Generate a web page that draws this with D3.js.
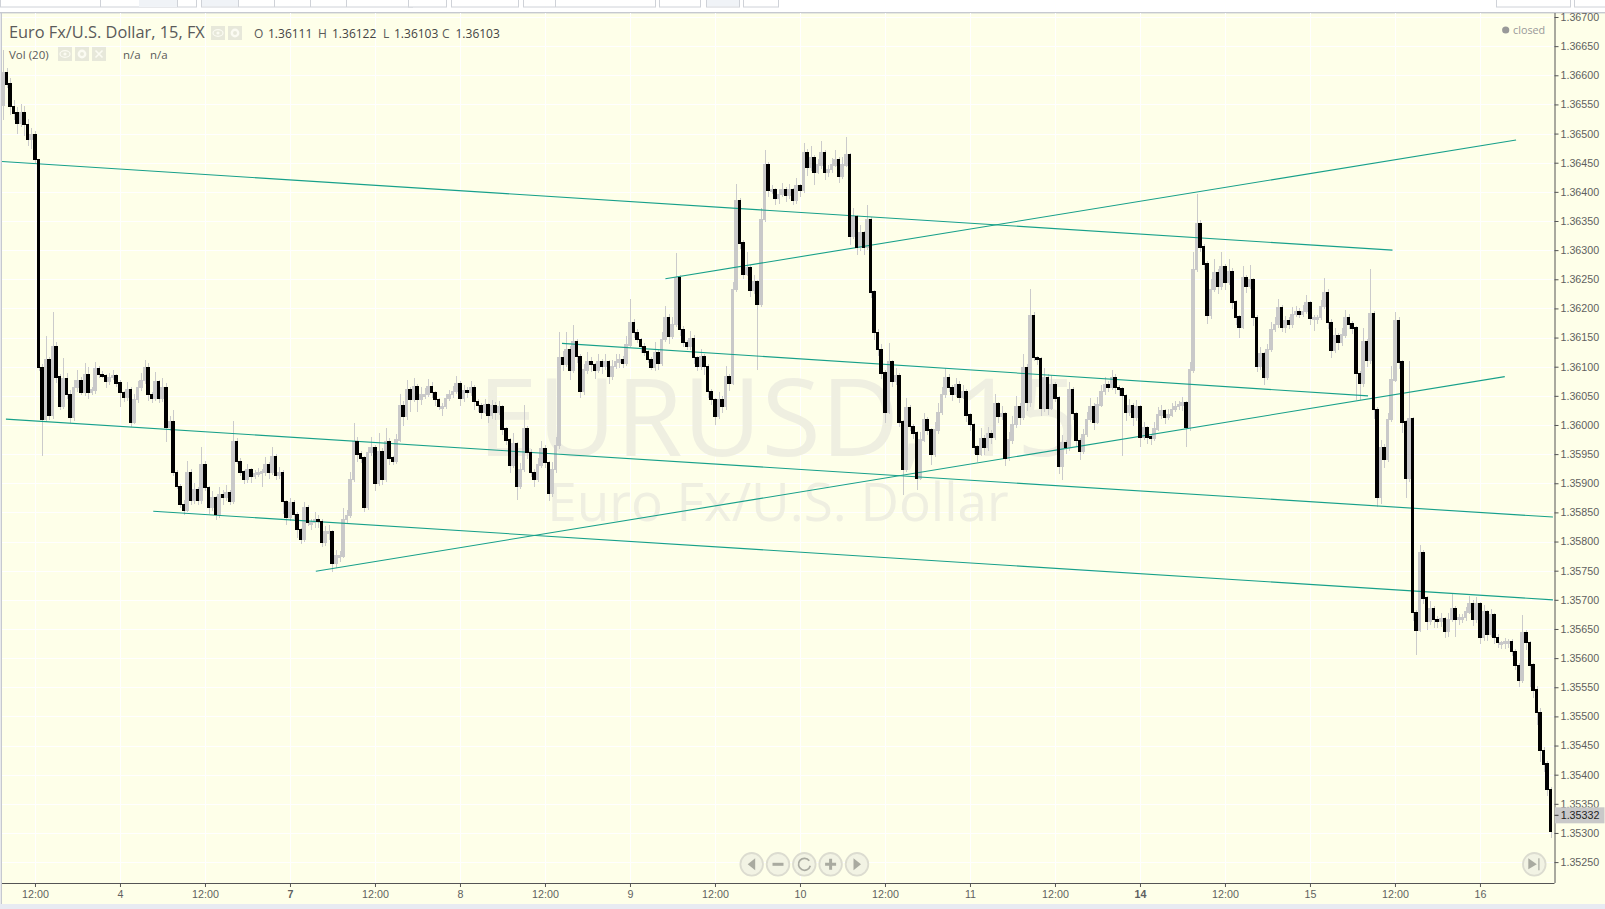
<!DOCTYPE html>
<html><head><meta charset="utf-8">
<script src="https://cdn.jsdelivr.net/npm/d3@7/dist/d3.min.js"></script>
<style>html,body{margin:0;padding:0;background:#fff;overflow:hidden}svg{display:block}
text{font-family:"Open Sans",sans-serif}
.axis text{font-family:"Liberation Sans",Arial,sans-serif;font-size:10.7px;fill:#5f5f5f}
</style></head><body><svg id="c" width="1605" height="909"></svg>
<script>
// Half-hour closes, in points above 1.35000 (1 point = 0.00001)
const firstOpen = 1549;
const closes = [
1604,1585,1546,1535,1518,1535,1515,1489,1498,1455,1098,1009,1112,1017,1134,1082,1031,1079,1052,1012,
1064,1076,1055,1086,1055,1060,1096,1086,1084,1074,1081,1084,1072,1055,1048,1060,1005,1043,1064,1076,
1098,1052,1045,1074,1045,1064,995,1005,918,894,863,854,918,871,889,870,931,892,858,875,
847,880,875,883,868,971,937,919,907,923,911,916,918,919,931,918,945,913,918,868,
841,866,846,820,803,858,832,832,837,834,799,816,816,763,775,775,837,844,906,971,
950,943,858,952,961,900,954,907,971,943,937,974,1033,1014,1060,1043,1065,1043,1052,1052,
1065,1055,1043,1031,1031,1045,1052,1057,1070,1045,1058,1055,1064,1040,1033,1022,1034,1017,1033,1021,
1031,993,974,931,967,895,923,993,952,918,906,931,959,935,883,923,964,1115,1103,1129,
1094,1142,1117,1057,1094,1108,1103,1093,1108,1100,1108,1084,1100,1108,1112,1106,1137,1175,1158,1146,
1134,1125,1112,1098,1124,1105,1146,1184,1151,1172,1252,1163,1141,1134,1148,1115,1100,1117,1100,1057,
1043,1014,1043,1031,1082,1072,1232,1384,1312,1259,1269,1230,1245,1206,1352,1446,1403,1403,1388,1395,
1403,1393,1403,1386,1410,1402,1467,1441,1458,1434,1446,1467,1434,1438,1446,1455,1426,1446,1463,1323,
1357,1305,1329,1305,1352,1228,1158,1129,1089,1022,1108,1074,1084,1005,923,1029,997,986,909,974,
1009,991,949,991,1021,1052,1081,1064,1052,1069,1048,1057,1017,1000,962,950,976,961,985,978,
1036,1014,1019,943,974,1000,1031,1012,1098,1038,1187,1115,1113,1029,1081,1029,1069,1046,928,969,
961,1060,1019,973,954,983,1009,1031,1005,1034,1057,1069,1064,1081,1064,1062,1050,1021,1033,1012,
1031,979,995,979,976,993,1017,1024,1012,1017,1026,1031,1034,1038,995,1094,1266,1345,1305,1276,
1187,1232,1261,1237,1271,1244,1263,1211,1185,1168,1252,1237,1249,1184,1101,1122,1082,1129,1163,1172,
1201,1168,1179,1173,1189,1194,1189,1194,1209,1182,1184,1184,1203,1227,1175,1127,1153,1142,1154,1184,
1173,1166,1088,1072,1142,1110,1191,1026,875,961,940,1009,1077,1179,1108,1005,909,1010,678,648,
780,703,662,684,666,662,667,645,666,684,667,669,669,679,693,667,693,635,679,641,
674,635,626,626,628,628,611,587,561,643,626,588,545,506,441,418,374,302];
// Wick length above each body, in points
const upperWick = [
40,8,10,12,10,16,12,10,12,6,0,6,40,4,60,8,6,36,10,8,
14,18,6,20,14,6,12,6,6,4,8,10,4,6,4,14,6,10,12,14,
14,8,4,17,4,16,8,10,20,4,4,8,20,6,12,4,32,8,4,12,
4,14,8,14,6,35,6,6,4,10,4,6,8,6,14,6,18,6,10,4,
4,8,6,4,4,10,4,6,14,8,4,10,12,4,10,8,20,10,14,33,
8,6,4,10,18,4,32,6,24,6,4,10,20,8,17,6,16,6,14,12,
14,8,4,4,6,8,8,10,14,6,10,8,12,4,4,4,10,4,10,6,
10,4,4,4,20,4,12,41,6,6,6,12,14,6,4,14,16,45,12,30,
6,30,6,4,10,18,8,4,14,6,14,4,12,14,10,6,16,41,6,6,
4,6,4,4,18,6,14,20,6,14,43,6,6,4,14,6,4,14,4,4,
4,4,14,6,20,6,14,30,6,6,28,6,12,4,20,26,6,8,4,10,
12,6,10,4,14,4,16,6,20,6,10,20,4,8,12,16,4,14,31,4,
16,4,14,4,26,4,4,6,10,6,33,4,14,6,4,17,6,4,4,14,
12,4,4,14,16,14,16,6,4,12,6,12,4,4,4,4,18,6,12,6,
18,4,14,4,14,16,18,6,24,6,46,6,4,4,16,6,16,4,4,14,
6,14,6,4,4,10,14,16,6,14,12,14,6,14,6,4,4,4,12,4,
12,4,10,4,4,12,14,10,4,10,12,10,8,10,4,14,30,51,6,6,
6,18,24,6,26,6,22,6,4,4,20,6,26,4,4,12,4,10,14,14,
16,4,8,6,14,10,6,12,14,4,4,4,12,26,6,6,14,4,12,14,
6,6,4,4,24,6,77,4,4,14,6,12,24,14,6,4,4,100,4,4,
14,6,4,14,6,6,10,4,12,28,6,6,6,8,14,6,12,4,12,4,
10,4,6,4,6,4,4,4,4,31,6,4,4,8,8,6,6,4];
// Wick length below each body, in points
const lowerWick = [
25,6,14,12,18,6,20,10,16,6,6,62,4,8,6,10,6,4,8,8,
6,8,4,6,10,4,6,6,4,10,6,4,6,25,8,6,8,4,6,6,
6,10,8,4,8,6,25,6,6,4,6,8,4,8,6,8,6,6,10,6,
10,6,12,6,6,4,4,6,8,6,10,4,6,25,6,10,4,8,6,20,
12,6,8,14,8,4,6,12,8,10,8,6,14,15,8,10,4,6,4,4,
14,8,8,4,6,14,4,10,4,12,6,4,4,16,6,20,4,20,8,8,
4,8,10,6,16,4,4,6,4,12,6,8,6,14,10,12,4,14,6,12,
4,10,8,14,4,24,4,4,10,8,12,4,4,8,14,6,6,6,10,4,
16,4,10,10,6,6,12,14,4,12,6,14,6,4,10,8,4,4,8,6,
10,6,6,4,6,10,4,4,12,4,4,10,8,6,6,10,8,6,14,10,
8,14,4,10,6,14,4,4,10,8,4,10,6,112,4,4,12,6,10,8,
4,10,6,8,6,10,4,14,6,22,4,6,14,8,6,4,10,4,4,14,
4,14,6,14,4,10,12,10,10,19,4,8,6,8,43,4,8,10,20,4,
4,8,17,4,6,4,6,8,10,4,10,4,12,10,12,14,4,12,6,10,
4,10,6,14,4,6,6,12,4,14,8,6,10,14,6,12,4,6,12,22,
10,6,10,10,14,4,4,4,14,4,4,6,8,4,10,12,103,14,6,14,
6,16,4,12,10,4,4,6,10,4,4,4,6,10,32,6,4,4,8,10,
14,6,4,12,6,12,4,12,14,18,4,10,4,14,10,6,14,4,4,4,
6,8,10,8,6,4,6,4,4,10,20,10,4,4,10,12,4,14,6,4,
8,10,45,29,6,10,6,16,15,10,14,4,4,4,12,18,34,6,14,43,
4,10,14,6,14,10,8,10,8,4,30,10,8,6,4,12,6,10,6,12,
4,10,8,10,10,10,8,8,10,4,12,38,14,20,20,14,10,10];
// Trend lines: [bar index, points] at each end
const trendLines = [
 [[-0.3,1452],[392.3,1300]],
 [[0.8,1010],[437.6,842]],
 [[42.4,852],[437.6,700]],
 [[88.3,749],[424,1083]],
 [[187,1251],[427.2,1489]],
 [[157.8,1140],[385.4,1050]]];
const priceTicks = [1.367,1.3665,1.366,1.3655,1.365,1.3645,1.364,1.3635,1.363,1.3625,1.362,1.3615,1.361,1.3605,1.36,1.3595,1.359,1.3585,1.358,1.3575,1.357,1.3565,1.356,1.3555,1.355,1.3545,1.354,1.3535,1.353,1.3525];
const timeLabels = ["12:00","4","12:00","7","12:00","8","12:00","9","12:00","10","12:00","11","12:00","14","12:00","15","12:00","16"];
const boldLabels = ["7","14"];
const lastPrice = 1.35332;
const headerOHLC = [["O","1.36111"],["H","1.36122"],["L","1.36103"],["C","1.36103"]];

const svg = d3.select("#c");
const P = {l:2,t:13,r:1554.5,b:883};
const x = d3.scaleLinear().domain([0,437]).range([3.1,1550.8]);
const y = d3.scaleLinear().domain([1.367,1.3525]).range([17,862.1]);
const px = v => 1.35 + v/1e5;
const BG = "#feffe9";

// page chrome
svg.append("rect").attr("width",1605).attr("height",909).attr("fill","#fff");
svg.append("rect").attr("x",P.l).attr("y",P.t).attr("width",1603).attr("height",891).attr("fill",BG);
svg.append("rect").attr("y",904).attr("width",1605).attr("height",5).attr("fill","#e8ebf2");
svg.append("rect").attr("x",0).attr("y",12).attr("width",1605).attr("height",1.4).attr("fill","#c6c9d0");
svg.append("rect").attr("x",0.6).attr("y",12).attr("width",1.4).attr("height",892).attr("fill","#c6c9d0");
const boxes=[[0,196],[201,412],[408,446],[451,518],[523,655],[659,700],[706,739],[743,778],[1496,1570],[1574,1605]];
boxes.forEach(b=>svg.append("rect").attr("x",b[0]+.5).attr("y",-4).attr("width",b[1]-b[0]).attr("height",11).attr("fill","#fff").attr("stroke","#cfd2d8"));
[[100,139],[177,196],[201,238],[238,274],[274,310],[310,346],[346,382],[555,596]].forEach(d=>svg.append("line").attr("x1",d[0]+.5).attr("x2",d[0]+.5).attr("y1",0).attr("y2",7).attr("stroke","#cfd2d8"));
svg.append("rect").attr("x",139).attr("y",0).attr("width",38).attr("height",7).attr("fill","#f0f3f7");
svg.append("rect").attr("x",202).attr("y",0).attr("width",36).attr("height",6).attr("fill","#f0f3f7");
svg.append("rect").attr("x",707).attr("y",0).attr("width",32).attr("height",6).attr("fill","#f0f3f7");

// grid
const grid = svg.append("g").attr("stroke","#fff").attr("stroke-width",1);
priceTicks.forEach(p=>grid.append("line").attr("x1",P.l).attr("x2",P.r).attr("y1",Math.round(y(p))+.5).attr("y2",Math.round(y(p))+.5));
const tickIdx = timeLabels.map((d,k)=>9+24*k);
tickIdx.forEach(i=>grid.append("line").attr("y1",P.t).attr("y2",P.b).attr("x1",Math.round(x(i))+.5).attr("x2",Math.round(x(i))+.5));

// watermark
svg.append("text").attr("x",778).attr("y",456).attr("text-anchor","middle").attr("font-size",108).attr("fill","#efefe1").text("EURUSD, 15");
svg.append("text").attr("x",778).attr("y",521).attr("text-anchor","middle").attr("font-size",53).attr("fill","#efefe1").text("Euro Fx/U.S. Dollar");

// candles
const bars = closes.map((c,i)=>{
  const o = i? closes[i-1]:firstOpen;
  return {i,o,c,h:Math.max(o,c)+(upperWick[i]||0),l:Math.min(o,c)-(lowerWick[i]||0)};
});
const cx = d=>Math.round(x(d.i));
svg.append("g").selectAll("rect").data(bars).join("rect")
 .attr("x",d=>cx(d)).attr("width",1).attr("y",d=>y(px(d.h))).attr("height",d=>y(px(d.l))-y(px(d.h))).attr("fill","#cbcbcb").attr("shape-rendering","crispEdges");
// each body fills its half-hour slot so that runs of bars join up
const body = (g,data,col)=>g.selectAll("rect").data(data).join("rect")
 .attr("x",d=>Math.round(x(d.i)-2)).attr("width",d=>Math.round(x(d.i+1)-2)-Math.round(x(d.i)-2))
 .attr("y",d=>y(px(Math.max(d.o,d.c)))-1)
 .attr("height",d=>Math.max(3,Math.abs(y(px(d.o))-y(px(d.c)))+1.5))
 .attr("fill",col).attr("shape-rendering","crispEdges");
body(svg.append("g"),bars.filter(d=>d.c>=d.o),"#c9c9c9");

// trend lines
const line = d3.line().x(d=>x(d[0])).y(d=>y(px(d[1])));
svg.append("g").selectAll("path").data(trendLines).join("path").attr("d",line).attr("fill","none").attr("stroke","#17a08a").attr("stroke-width",1.1);

body(svg.append("g"),bars.filter(d=>d.c<d.o),"#000");

// axes
const yAxis = d3.axisRight(y).tickValues(priceTicks).tickFormat(d3.format(".5f")).tickSize(4).tickPadding(2);
const ya = svg.append("g").attr("class","axis").attr("transform",`translate(${P.r},0)`).call(yAxis);
const xAxis = d3.axisBottom(x).tickValues(tickIdx).tickFormat((d,k)=>timeLabels[k]).tickSize(4).tickPadding(3);
const xa = svg.append("g").attr("class","axis").attr("transform",`translate(0,${P.b})`).call(xAxis);
ya.selectAll("path,line").attr("stroke","#555");
xa.selectAll("path,line").attr("stroke","#555");
ya.select("path").attr("d",`M0.5,${P.t}V${P.b}`);
xa.select("path").attr("d",`M${P.l},0.5H${P.r}`);
xa.selectAll("text").attr("font-weight",(d,k)=>boldLabels.includes(timeLabels[k])?"bold":null);

// last price tag
const lastY=y(lastPrice);
svg.append("rect").attr("x",P.r+.5).attr("y",lastY-7).attr("width",49.5).attr("height",16).attr("fill","#c9c9c9");
svg.append("text").attr("x",1560.7).attr("y",lastY+5).attr("font-size",10.7).attr("fill","#222").style("font-family",'"Liberation Sans",Arial,sans-serif').text(d3.format(".5f")(lastPrice));
svg.append("line").attr("x1",P.r).attr("x2",P.r+4).attr("y1",lastY+1).attr("y2",lastY+1).attr("stroke","#333");

// legend
const T=(a,xx,yy,s,c,w)=>svg.append("text").attr("x",xx).attr("y",yy).attr("font-size",s).attr("fill",c).text(a);
T("Euro Fx/U.S. Dollar, 15, FX",9,38,16.35,"#5a5a5a");
const icon=(xx,yy,kind)=>{svg.append("rect").attr("x",xx).attr("y",yy).attr("width",14).attr("height",14).attr("fill","#e7e8da");
 const cxx=xx+7,cyy=yy+7;
 if(kind=="eye"){svg.append("ellipse").attr("cx",cxx).attr("cy",cyy).attr("rx",5).attr("ry",3.3).attr("fill","none").attr("stroke","#fbfbf2").attr("stroke-width",1.2);svg.append("circle").attr("cx",cxx).attr("cy",cyy).attr("r",1.6).attr("fill","#fbfbf2");}
 if(kind=="gear"){svg.append("circle").attr("cx",cxx).attr("cy",cyy).attr("r",3.2).attr("fill","none").attr("stroke","#fbfbf2").attr("stroke-width",2.4);}
 if(kind=="x"){svg.append("path").attr("d",`M${cxx-3.5},${cyy-3.5}L${cxx+3.5},${cyy+3.5}M${cxx+3.5},${cyy-3.5}L${cxx-3.5},${cyy+3.5}`).attr("stroke","#fbfbf2").attr("stroke-width",1.6);}
};
icon(211,26,"eye");icon(228,26,"gear");
const ohlcX=[[254,268],[318,332],[383,394],[442,455.5]];
headerOHLC.forEach((d,k)=>{T(d[0],ohlcX[k][0],38,12,"#5a5a5a");T(d[1],ohlcX[k][1],38,12,"#444");});
T("Vol (20)",9,59,11.5,"#5a5a5a");
icon(58,47,"eye");icon(75,47,"gear");icon(92,47,"x");
T("n/a",123,59,11.5,"#5a5a5a");T("n/a",150,59,11.5,"#5a5a5a");
svg.append("circle").attr("cx",1505.7).attr("cy",30).attr("r",3.6).attr("fill","#999");
T("closed",1513,34,10.8,"#999");

// nav buttons
const btn=(cxv,cyv,draw)=>{svg.append("circle").attr("cx",cxv).attr("cy",cyv).attr("r",11.3).attr("fill","#f2f3e4").attr("stroke","#dcdcd0").attr("stroke-width",1.8);draw(svg.append("g").attr("transform",`translate(${cxv},${cyv})`));};
const G="#a9aaa0";
btn(751.7,864.3,g=>g.append("path").attr("d","M3.5,-6V6L-4,0Z").attr("fill",G));
btn(778,864.3,g=>g.append("rect").attr("x",-5.5).attr("y",-1.5).attr("width",11).attr("height",3).attr("fill",G));
btn(804.3,864.3,g=>g.append("path").attr("d","M5,-3.6A6,6 0 1 0 6,1.5").attr("fill","none").attr("stroke",G).attr("stroke-width",1.7));
btn(830.6,864.3,g=>g.append("path").attr("d","M-5.5,0H5.5M0,-5.5V5.5").attr("stroke",G).attr("stroke-width",3));
btn(857,864.3,g=>g.append("path").attr("d","M-3.5,-6V6L4,0Z").attr("fill",G));
btn(1534.3,864.3,g=>{g.append("path").attr("d","M-6,-6V5L2.5,0Z").attr("fill",G);g.append("rect").attr("x",4).attr("y",-6).attr("width",1.2).attr("height",12).attr("fill",G);});
</script></body></html>
